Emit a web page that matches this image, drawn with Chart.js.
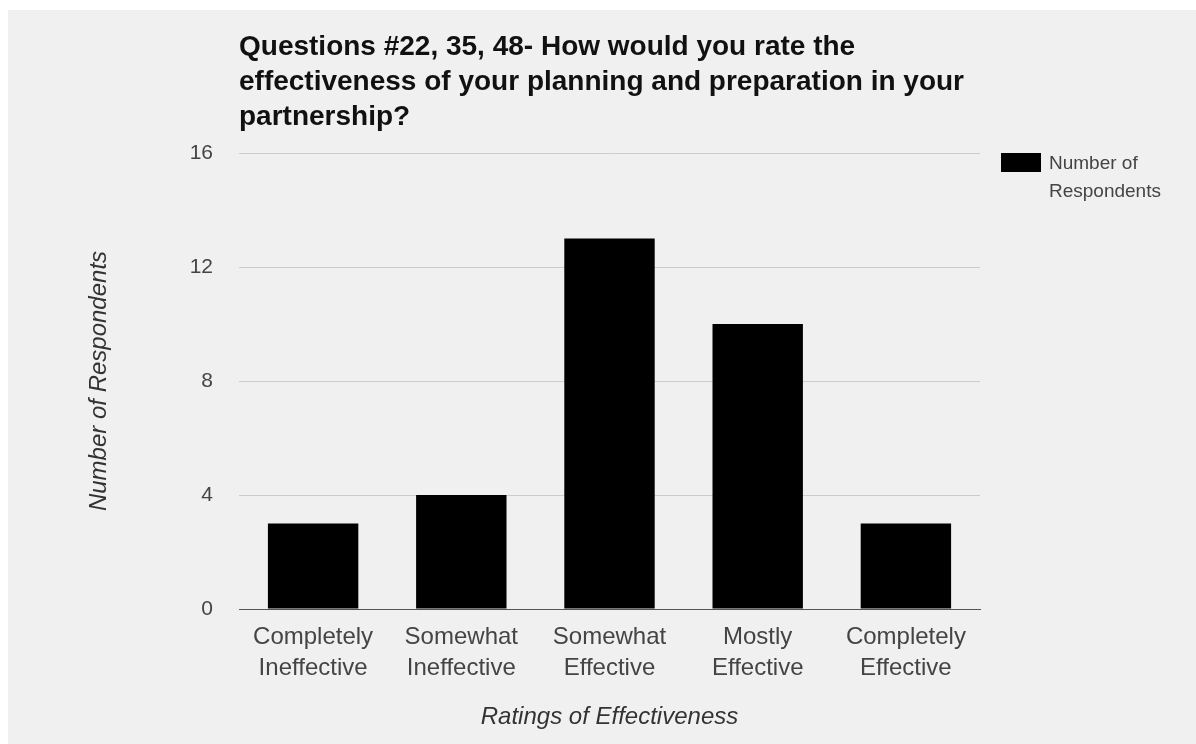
<!DOCTYPE html>
<html>
<head>
<meta charset="utf-8">
<script src="https://cdn.jsdelivr.net/npm/chart.js@4.4.1/dist/chart.umd.min.js"></script>
<style>
  html, body { margin: 0; padding: 0; background: #ffffff; }
  #wrap { position: absolute; left: 8px; top: 10px; width: 1188px; height: 734px; background: #f0f0f0; }
</style>
</head>
<body>
<div id="wrap"><canvas id="chart" width="1188" height="734"></canvas></div>
<script>
// data
const categories = [
  ["Completely", "Ineffective"],
  ["Somewhat", "Ineffective"],
  ["Somewhat", "Effective"],
  ["Mostly", "Effective"],
  ["Completely", "Effective"]
];
const respondents = [3, 4, 13, 10, 3];
const yTicks = [0, 4, 8, 12, 16];
const titleLines = [
  "Questions #22, 35, 48- How would you rate the",
  "effectiveness of your planning and preparation in your",
  "partnership?"
];
const seriesName = "Number of Respondents";
const legendLines = ["Number of", "Respondents"];

const FONT = "'Liberation Sans', Arial, sans-serif";

// title + legend drawn by hand so they sit where the original has them
const extras = {
  id: "extras",
  afterDraw(chart) {
    const ctx = chart.ctx;
    const area = chart.chartArea;
    ctx.save();
    ctx.fillStyle = "#111";
    ctx.font = "bold 28px " + FONT;
    ctx.textBaseline = "middle";
    ctx.textAlign = "left";
    titleLines.forEach((t, i) => ctx.fillText(t, area.left, 37 + i * 35));

    // legend
    const lx = area.right + 21, ly = area.top;
    ctx.fillStyle = "#000";
    ctx.fillRect(lx, ly, 40, 19);
    ctx.fillStyle = "#444";
    ctx.font = "19px " + FONT;
    legendLines.forEach((t, i) => ctx.fillText(t, lx + 48, ly + 11 + i * 28));
    ctx.restore();
  }
};

new Chart(document.getElementById("chart"), {
  type: "bar",
  data: {
    labels: categories,
    datasets: [{
      label: seriesName,
      data: respondents,
      backgroundColor: "#000000",
      categoryPercentage: 0.61,
      barPercentage: 1.0
    }]
  },
  options: {
    responsive: false,
    animation: false,
    layout: { padding: { left: 0, top: 143, right: 216, bottom: 0 } },
    plugins: {
      legend: { display: false },
      title: { display: false },
      tooltip: { enabled: false }
    },
    scales: {
      x: {
        grid: { display: false, drawTicks: false },
        border: { color: "#555", width: 1 },
        ticks: { color: "#444", font: { family: FONT, size: 24, lineHeight: 1.3 }, padding: 13, maxRotation: 0 },
        title: {
          display: true,
          text: "Ratings of Effectiveness",
          color: "#333",
          font: { family: FONT, size: 24, style: "italic" },
          padding: { top: 10, bottom: 12 }
        },
        afterFit(scale) { scale.height = 135; }
      },
      y: {
        min: 0,
        max: 16,
        afterBuildTicks(scale) { scale.ticks = yTicks.map(v => ({ value: v })); },
        grid: { color: "#cccccc", drawTicks: false },
        border: { display: false },
        ticks: { color: "#444", font: { family: FONT, size: 21 }, padding: 26 },
        title: {
          display: true,
          text: seriesName,
          color: "#333",
          font: { family: FONT, size: 24, style: "italic" },
          padding: { top: 77, bottom: 0 }
        },
        afterFit(scale) { scale.width = 231; }
      }
    }
  },
  plugins: [extras]
});
</script>
</body>
</html>
